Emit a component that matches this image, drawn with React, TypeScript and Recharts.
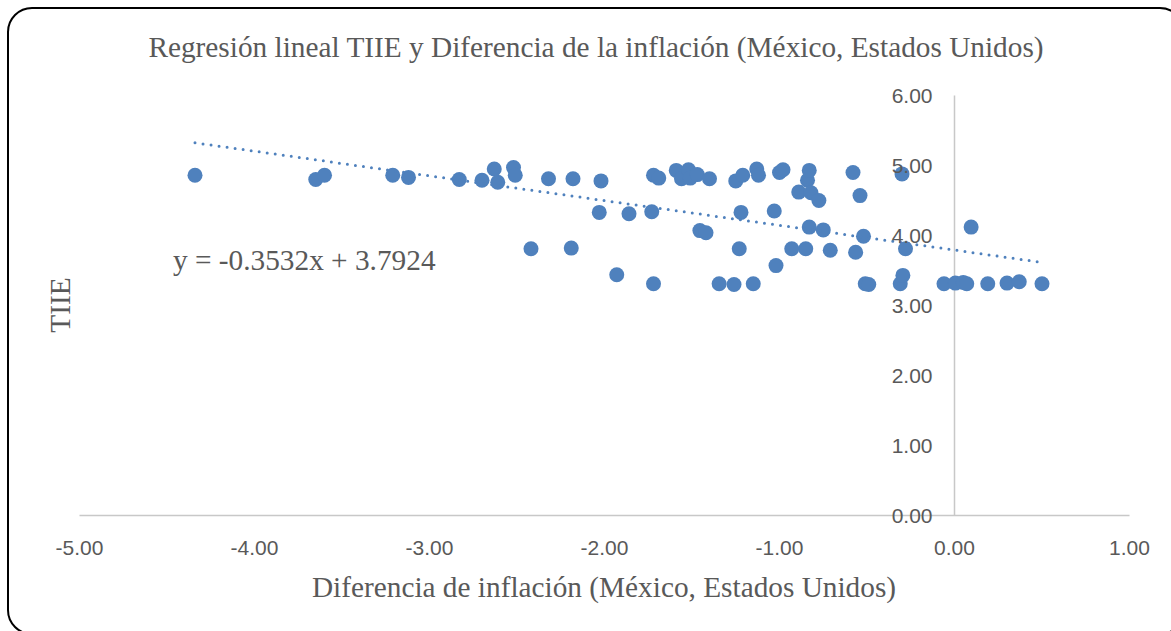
import React from "react";
import { ScatterChart, Scatter, XAxis, YAxis, ReferenceLine } from "recharts";

// Diferencia de inflación (México, Estados Unidos)
const DIF_INFLACION = [
  -4.34, -3.65, -3.6, -3.21, -3.12, -2.83, -2.7, -2.63, -2.61, -2.52,
  -2.51, -2.42, -2.32, -2.19, -2.18, -2.03, -2.02, -1.93, -1.86, -1.73,
  -1.72, -1.72, -1.69, -1.59, -1.56, -1.52, -1.51, -1.47, -1.455, -1.42,
  -1.4, -1.345, -1.26, -1.25, -1.23, -1.22, -1.21, -1.15, -1.13, -1.12,
  -1.03, -1.02, -1.0, -0.98, -0.93, -0.89, -0.85, -0.84, -0.83, -0.83,
  -0.82, -0.775, -0.75, -0.71, -0.58, -0.565, -0.54, -0.52, -0.51, -0.49,
  -0.31, -0.3, -0.295, -0.28, -0.06, 0.005, 0.05, 0.07, 0.095, 0.19,
  0.3, 0.37, 0.5,
];

// TIIE
const TIIE = [
  4.86, 4.8, 4.86, 4.86, 4.83, 4.8, 4.79, 4.95, 4.76, 4.97,
  4.86, 3.81, 4.81, 3.82, 4.81, 4.33, 4.78, 3.44, 4.31, 4.34,
  4.86, 3.31, 4.82, 4.93, 4.81, 4.94, 4.82, 4.87, 4.07, 4.04,
  4.81, 3.31, 3.3, 4.78, 3.81, 4.33, 4.86, 3.31, 4.95, 4.86,
  4.35, 3.57, 4.9, 4.94, 3.81, 4.62, 3.81, 4.79, 4.93, 4.12,
  4.61, 4.5, 4.08, 3.79, 4.9, 3.76, 4.57, 3.99, 3.31, 3.3,
  3.31, 4.88, 3.43, 3.81, 3.31, 3.32, 3.33, 3.31, 4.12, 3.31,
  3.32, 3.34, 3.31,
];

// Trend line endpoints
const TREND_X = [-4.34, 0.5];
const TREND_Y = [5.325, 3.616];

const X_TICKS = [-5, -4, -3, -2, -1, 0, 1];
const Y_TICKS = [0, 1, 2, 3, 4, 5, 6];

const TITLE = "Regresión lineal TIIE y Diferencia de la inflación (México, Estados Unidos)";
const X_TITLE = "Diferencia de inflación (México, Estados Unidos)";
const Y_TITLE = "TIIE";
const EQUATION = "y = -0.3532x + 3.7924";

const W = 1171;
const H = 631;
const PLOT_LEFT = 79.5;
const PLOT_TOP = 95.5;
const PLOT_W = 1050;
const PLOT_H = 420;
const AXIS_W = 40;
const AXIS_H = 40;
const X_MIN = -5;
const X_MAX = 1;
const ZERO_OFFSET = ((0 - X_MIN) / (X_MAX - X_MIN)) * PLOT_W;

const BLUE = "#4F81BD";
const TEXT = "#595959";
const AXIS = "#c8c8c8";
const SANS = "'Liberation Sans', Arial, sans-serif";
const SERIF = "'Liberation Serif', 'Times New Roman', serif";
const TITLE_SIZE = 29.3;

const points = DIF_INFLACION.map((x, i) => ({ x, y: TIIE[i] }));
const trend = TREND_X.map((x, i) => ({ x, y: TREND_Y[i] }));

const fmt = (v: number) => v.toFixed(2);

const XTick = (props: any) => {
  const { x, payload } = props;
  return (
    <text x={x} y={PLOT_TOP + PLOT_H + 32} textAnchor="middle" dominantBaseline="central" fill={TEXT} fontFamily={SANS} fontSize={21}>
      {fmt(payload.value)}
    </text>
  );
};

const YTick = (props: any) => {
  const { y, payload } = props;
  return (
    <text x={PLOT_LEFT + ZERO_OFFSET - 22} y={y} textAnchor="end" dominantBaseline="central" fill={TEXT} fontFamily={SANS} fontSize={21}>
      {fmt(payload.value)}
    </text>
  );
};

const Dot = (props: any) => {
  const { cx, cy } = props;
  if (cx == null || cy == null) return null;
  return <circle cx={cx} cy={cy} r={7.5} fill={BLUE} />;
};

export default function App() {
  return (
    <div style={{ position: "fixed", left: 0, top: 0, width: W, height: H, overflow: "hidden", background: "#fff" }}>
      <div
        style={{
          position: "absolute",
          left: 7,
          top: 7,
          width: 1178,
          height: 628,
          border: "2px solid #000",
          borderRadius: 25,
          boxSizing: "border-box",
        }}
      />
      <div style={{ position: "absolute", left: 0, top: 0 }}>
        <ScatterChart
          width={W}
          height={H}
          margin={{
            top: PLOT_TOP,
            left: PLOT_LEFT - AXIS_W,
            right: W - PLOT_LEFT - PLOT_W,
            bottom: H - PLOT_TOP - PLOT_H - AXIS_H,
          }}
        >
          <XAxis
            type="number"
            dataKey="x"
            domain={[X_MIN, X_MAX]}
            ticks={X_TICKS}
            height={AXIS_H}
            tickLine={false}
            axisLine={{ stroke: AXIS, strokeWidth: 1.5 }}
            tick={<XTick />}
            interval={0}
            allowDataOverflow
          />
          <YAxis
            type="number"
            dataKey="y"
            domain={[0, 6]}
            ticks={Y_TICKS}
            width={AXIS_W}
            tickLine={false}
            axisLine={false}
            tick={<YTick />}
            interval={0}
            allowDataOverflow
          />
          <ReferenceLine x={0} stroke={AXIS} strokeWidth={1.5} />
          <Scatter data={points} fill={BLUE} shape={<Dot />} isAnimationActive={false} />
          <Scatter
            data={trend}
            line={{ stroke: BLUE, strokeWidth: 3, strokeDasharray: "0 8.1", strokeLinecap: "round" }}
            shape={() => null}
            isAnimationActive={false}
          />
        </ScatterChart>
      </div>
      <svg width={W} height={H} style={{ position: "absolute", left: 0, top: 0, pointerEvents: "none" }}>
        <text x={596} y={47} textAnchor="middle" dominantBaseline="central" fill={TEXT} fontFamily={SERIF} fontSize={TITLE_SIZE}>
          {TITLE}
        </text>
        <text x={604} y={587} textAnchor="middle" dominantBaseline="central" fill={TEXT} fontFamily={SERIF} fontSize={TITLE_SIZE}>
          {X_TITLE}
        </text>
        <text
          x={60}
          y={305}
          textAnchor="middle"
          dominantBaseline="central"
          fill={TEXT}
          fontFamily={SERIF}
          fontSize={TITLE_SIZE}
          transform="rotate(-90 60 305)"
        >
          {Y_TITLE}
        </text>
        <text x={173} y={260} textAnchor="start" dominantBaseline="central" fill={TEXT} fontFamily={SERIF} fontSize={TITLE_SIZE}>
          {EQUATION}
        </text>
      </svg>
    </div>
  );
}
